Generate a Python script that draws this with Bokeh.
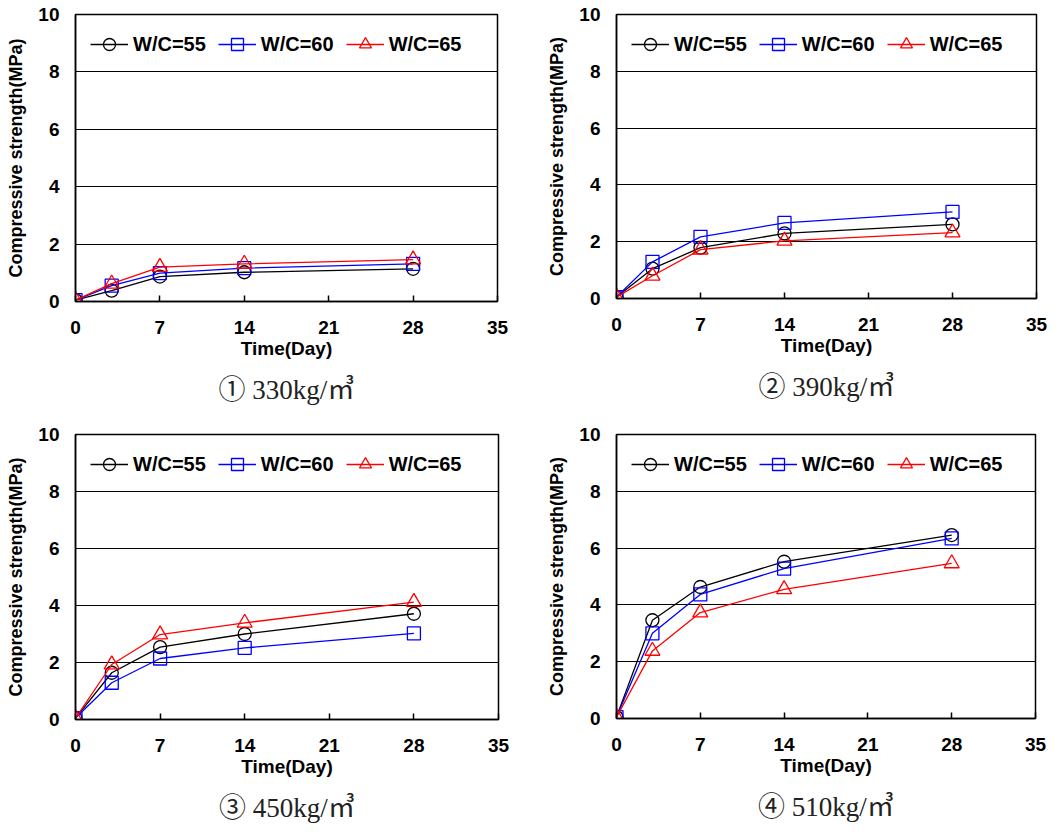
from bokeh.plotting import figure
from bokeh.layouts import gridplot
from bokeh.models import Legend, LegendItem, Title, FixedTicker, Range1d
from bokeh.embed import file_html
from bokeh.resources import INLINE

# ---------------- data ----------------
days = [0, 3, 7, 14, 28]
series_names = ["W/C=55", "W/C=60", "W/C=65"]
captions = ["① 330kg/㎥", "② 390kg/㎥", "③ 450kg/㎥", "④ 510kg/㎥"]
x_ticks = [0, 7, 14, 21, 28, 35]
y_ticks = [0, 2, 4, 6, 8, 10]

c330_wc55 = [0.05, 0.38, 0.87, 1.02, 1.14]
c330_wc60 = [0.05, 0.55, 0.99, 1.16, 1.31]
c330_wc65 = [0.05, 0.62, 1.20, 1.31, 1.46]

c390_wc55 = [0.05, 1.05, 1.79, 2.29, 2.61]
c390_wc60 = [0.05, 1.29, 2.17, 2.66, 3.05]
c390_wc65 = [0.05, 0.80, 1.72, 2.03, 2.32]

c450_wc55 = [0.05, 1.64, 2.54, 3.00, 3.71]
c450_wc60 = [0.05, 1.29, 2.14, 2.51, 3.02]
c450_wc65 = [0.05, 1.93, 2.98, 3.39, 4.12]

c510_wc55 = [0.05, 3.46, 4.63, 5.52, 6.46]
c510_wc60 = [0.05, 3.00, 4.37, 5.28, 6.34]
c510_wc65 = [0.05, 2.38, 3.73, 4.55, 5.46]

panels = [
    [c330_wc55, c330_wc60, c330_wc65],
    [c390_wc55, c390_wc60, c390_wc65],
    [c450_wc55, c450_wc60, c450_wc65],
    [c510_wc55, c510_wc60, c510_wc65],
]

colors = ["#000000", "#0000FF", "#FF0000"]
markers = ["circle", "square", "triangle"]
msizes = [13, 13, 15]

# geometry per panel: (left, frame_w, right, top, frame_h, bottom)
geom = [
    (75, 422, 31, 14, 287, 115),
    (87, 420, 21, 14, 284, 118),
    (74, 423, 31, 18, 285, 114),
    (88, 419, 21, 18, 284, 115),
]

FONT = "Liberation Sans"


def make_panel(i):
    left, fw, right, top, fh, bottom = geom[i]
    p = figure(
        frame_width=fw, frame_height=fh,
        min_border_left=left, min_border_right=right,
        min_border_top=top, min_border_bottom=bottom,
        x_range=Range1d(0, 35), y_range=Range1d(0, 10),
        output_backend="svg", toolbar_location=None,
        background_fill_color="white", border_fill_color="white",
    )
    p.outline_line_color = "black"
    p.outline_line_width = 1.5

    p.xgrid.visible = False
    p.ygrid.ticker = FixedTicker(ticks=[2, 4, 6, 8])
    p.ygrid.grid_line_color = "black"
    p.ygrid.grid_line_width = 1

    p.xaxis.ticker = FixedTicker(ticks=x_ticks)
    p.yaxis.ticker = FixedTicker(ticks=y_ticks)
    for ax in (p.xaxis[0], p.yaxis[0]):
        ax.axis_line_color = "black"
        ax.axis_line_width = 1.5
        ax.major_label_text_font = FONT
        ax.major_label_text_font_style = "bold"
        ax.major_label_text_font_size = "19px"
        ax.major_label_text_color = "black"
        ax.axis_label_text_font = FONT
        ax.axis_label_text_font_style = "bold"
        ax.axis_label_text_color = "black"
        ax.minor_tick_line_color = None
    p.xaxis.axis_label_text_font_size = "19px"
    p.yaxis.axis_label_text_font_size = "18px"
    p.xaxis.major_tick_in = 6
    p.xaxis.major_tick_out = 0
    p.xaxis.major_tick_line_color = "black"
    p.xaxis.major_tick_line_width = 1.5
    p.yaxis.major_tick_in = 0
    p.yaxis.major_tick_out = 0
    p.xaxis.major_label_standoff = 19
    p.yaxis.major_label_standoff = 16
    p.xaxis.axis_label = "Time(Day)"
    p.yaxis.axis_label = "Compressive strength(MPa)"
    p.xaxis.axis_label_standoff = 1
    p.yaxis.axis_label_standoff = 9

    items = []
    for j, vals in enumerate(panels[i]):
        r1 = p.line(days, vals, line_color=colors[j], line_width=1.3)
        r2 = p.scatter(days, vals, marker=markers[j], size=msizes[j],
                       line_color=colors[j], line_width=1.3,
                       fill_alpha=0)
        items.append(LegendItem(label=series_names[j], renderers=[r1, r2]))

    legend = Legend(
        items=items, orientation="horizontal", location="top_left",
        border_line_color=None, background_fill_alpha=0,
        label_text_font=FONT, label_text_font_style="bold",
        label_text_font_size="20px", label_text_color="black",
        glyph_width=38, glyph_height=30, spacing=12, label_standoff=5,
        margin=15, padding=10, label_height=30,
    )
    p.add_layout(legend)

    cap = Title(text=captions[i], align="center",
                text_font="'Liberation Serif', 'Noto Sans CJK KR'",
                text_font_size="27px", text_font_style="normal",
                text_color="#222222", standoff=22)
    p.add_layout(cap, "below")
    return p


figs = [make_panel(i) for i in range(4)]
grid = gridplot([[figs[0], figs[1]], [figs[2], figs[3]]],
                toolbar_location=None, merge_tools=False)

open("out.html", "w").write(file_html(grid, INLINE))
